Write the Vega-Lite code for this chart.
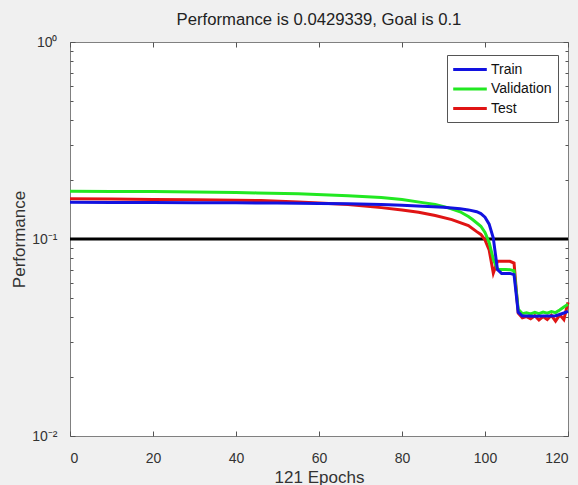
{
  "$schema": "https://vega.github.io/schema/vega-lite/v6.json",
  "width": 498,
  "height": 394,
  "autosize": {"type": "none"},
  "padding": {"left": 70, "top": 42, "right": 10, "bottom": 49},
  "background": "#f0f0f0",
  "title": {
    "text": "Performance is 0.0429339, Goal is 0.1",
    "font": "Liberation Sans",
    "fontSize": 16.7,
    "fontWeight": "normal",
    "color": "#222222",
    "offset": 6
  },
  "config": {
    "view": {"stroke": "#808080", "strokeWidth": 1, "fill": "white"},
    "axis": {
      "domain": false,
      "grid": false,
      "zindex": 2,
      "ticks": true,
      "tickColor": "#555555",
      "tickWidth": 1,
      "labelFont": "Liberation Sans",
      "labelFontSize": 14,
      "labelColor": "#333333",
      "titleFont": "Liberation Sans",
      "titleFontSize": 17,
      "titleFontWeight": "normal",
      "titleColor": "#333333"
    },
    "legend": {
      "labelFont": "Liberation Sans",
      "labelFontSize": 14,
      "labelColor": "#111111"
    }
  },
  "layer": [
    {
      "data": {"values": [{"epoch": 0, "perf": 0.1}, {"epoch": 120, "perf": 0.1}]},
      "mark": {"type": "line", "color": "black", "strokeWidth": 3},
      "encoding": {
        "x": {
          "field": "epoch", "type": "quantitative",
          "scale": {"domain": [0, 120], "nice": false, "zero": false},
          "axis": {"orient": "top", "values": [0, 20, 40, 60, 80, 100, 120], "labels": false, "title": null, "tickSize": -5}
        },
        "y": {
          "field": "perf", "type": "quantitative",
          "scale": {"type": "log", "domain": [0.01, 1], "nice": false},
          "axis": {
            "orient": "right",
            "values": [0.01, 0.02, 0.03, 0.04, 0.05, 0.06, 0.07, 0.08, 0.09, 0.1, 0.2, 0.3, 0.4, 0.5, 0.6, 0.7, 0.8, 0.9, 1],
            "labels": false, "title": null,
            "tickSize": {"condition": {"test": "datum.value == 1 || datum.value == 0.1 || datum.value == 0.01", "value": -5}, "value": -3}
          }
        }
      }
    },
    {
      "data": {"values": [
        {"series": "Test", "epoch": 0, "perf": 0.1599},
        {"series": "Test", "epoch": 10, "perf": 0.1595},
        {"series": "Test", "epoch": 20, "perf": 0.1589},
        {"series": "Test", "epoch": 30, "perf": 0.1582},
        {"series": "Test", "epoch": 40, "perf": 0.1574},
        {"series": "Test", "epoch": 46, "perf": 0.1567},
        {"series": "Test", "epoch": 55, "perf": 0.154},
        {"series": "Test", "epoch": 60, "perf": 0.1522},
        {"series": "Test", "epoch": 67, "perf": 0.1496},
        {"series": "Test", "epoch": 75, "perf": 0.1443},
        {"series": "Test", "epoch": 80, "perf": 0.1405},
        {"series": "Test", "epoch": 84, "perf": 0.1367},
        {"series": "Test", "epoch": 88, "perf": 0.1315},
        {"series": "Test", "epoch": 92, "perf": 0.1255},
        {"series": "Test", "epoch": 96, "perf": 0.117},
        {"series": "Test", "epoch": 98, "perf": 0.109},
        {"series": "Test", "epoch": 99, "perf": 0.1055},
        {"series": "Test", "epoch": 100, "perf": 0.099},
        {"series": "Test", "epoch": 101, "perf": 0.088},
        {"series": "Test", "epoch": 102, "perf": 0.0672},
        {"series": "Test", "epoch": 103, "perf": 0.0772},
        {"series": "Test", "epoch": 104, "perf": 0.0772},
        {"series": "Test", "epoch": 105, "perf": 0.0772},
        {"series": "Test", "epoch": 106, "perf": 0.0771},
        {"series": "Test", "epoch": 107, "perf": 0.0755},
        {"series": "Test", "epoch": 108, "perf": 0.042},
        {"series": "Test", "epoch": 109, "perf": 0.0398},
        {"series": "Test", "epoch": 110, "perf": 0.0404},
        {"series": "Test", "epoch": 111, "perf": 0.0394},
        {"series": "Test", "epoch": 112, "perf": 0.0408},
        {"series": "Test", "epoch": 113, "perf": 0.0388},
        {"series": "Test", "epoch": 114, "perf": 0.0404},
        {"series": "Test", "epoch": 115, "perf": 0.039},
        {"series": "Test", "epoch": 116, "perf": 0.041},
        {"series": "Test", "epoch": 117, "perf": 0.0383},
        {"series": "Test", "epoch": 118, "perf": 0.0412},
        {"series": "Test", "epoch": 119, "perf": 0.039},
        {"series": "Test", "epoch": 120, "perf": 0.0477},
        {"series": "Validation", "epoch": 0, "perf": 0.1746},
        {"series": "Validation", "epoch": 10, "perf": 0.1744},
        {"series": "Validation", "epoch": 20, "perf": 0.174},
        {"series": "Validation", "epoch": 30, "perf": 0.1733},
        {"series": "Validation", "epoch": 40, "perf": 0.1722},
        {"series": "Validation", "epoch": 45, "perf": 0.1714},
        {"series": "Validation", "epoch": 55, "perf": 0.1695},
        {"series": "Validation", "epoch": 67, "perf": 0.166},
        {"series": "Validation", "epoch": 75, "perf": 0.1622},
        {"series": "Validation", "epoch": 80, "perf": 0.1585},
        {"series": "Validation", "epoch": 85, "perf": 0.153},
        {"series": "Validation", "epoch": 88, "perf": 0.1496},
        {"series": "Validation", "epoch": 91, "perf": 0.1443},
        {"series": "Validation", "epoch": 94, "perf": 0.1375},
        {"series": "Validation", "epoch": 96, "perf": 0.13},
        {"series": "Validation", "epoch": 97, "perf": 0.1255},
        {"series": "Validation", "epoch": 99, "perf": 0.1161},
        {"series": "Validation", "epoch": 100, "perf": 0.108},
        {"series": "Validation", "epoch": 101, "perf": 0.096},
        {"series": "Validation", "epoch": 102, "perf": 0.079},
        {"series": "Validation", "epoch": 103, "perf": 0.0701},
        {"series": "Validation", "epoch": 104, "perf": 0.07},
        {"series": "Validation", "epoch": 105, "perf": 0.07},
        {"series": "Validation", "epoch": 106, "perf": 0.0699},
        {"series": "Validation", "epoch": 107, "perf": 0.069},
        {"series": "Validation", "epoch": 108, "perf": 0.044},
        {"series": "Validation", "epoch": 109, "perf": 0.0418},
        {"series": "Validation", "epoch": 110, "perf": 0.0422},
        {"series": "Validation", "epoch": 111, "perf": 0.0417},
        {"series": "Validation", "epoch": 112, "perf": 0.0424},
        {"series": "Validation", "epoch": 113, "perf": 0.0418},
        {"series": "Validation", "epoch": 114, "perf": 0.0426},
        {"series": "Validation", "epoch": 115, "perf": 0.042},
        {"series": "Validation", "epoch": 116, "perf": 0.0428},
        {"series": "Validation", "epoch": 117, "perf": 0.0423},
        {"series": "Validation", "epoch": 118, "perf": 0.0436},
        {"series": "Validation", "epoch": 119, "perf": 0.0452},
        {"series": "Validation", "epoch": 120, "perf": 0.0466},
        {"series": "Train", "epoch": 0, "perf": 0.1536},
        {"series": "Train", "epoch": 10, "perf": 0.1534},
        {"series": "Train", "epoch": 20, "perf": 0.1532},
        {"series": "Train", "epoch": 30, "perf": 0.1529},
        {"series": "Train", "epoch": 40, "perf": 0.1526},
        {"series": "Train", "epoch": 50, "perf": 0.1521},
        {"series": "Train", "epoch": 60, "perf": 0.1515},
        {"series": "Train", "epoch": 67, "perf": 0.151},
        {"series": "Train", "epoch": 75, "perf": 0.1495},
        {"series": "Train", "epoch": 80, "perf": 0.1483},
        {"series": "Train", "epoch": 85, "perf": 0.1468},
        {"series": "Train", "epoch": 90, "perf": 0.145},
        {"series": "Train", "epoch": 94, "perf": 0.1425},
        {"series": "Train", "epoch": 96, "perf": 0.1405},
        {"series": "Train", "epoch": 98, "perf": 0.1375},
        {"series": "Train", "epoch": 99, "perf": 0.1345},
        {"series": "Train", "epoch": 100, "perf": 0.129},
        {"series": "Train", "epoch": 101, "perf": 0.119},
        {"series": "Train", "epoch": 102, "perf": 0.101},
        {"series": "Train", "epoch": 103, "perf": 0.07},
        {"series": "Train", "epoch": 104, "perf": 0.0669},
        {"series": "Train", "epoch": 105, "perf": 0.0669},
        {"series": "Train", "epoch": 106, "perf": 0.0669},
        {"series": "Train", "epoch": 107, "perf": 0.066},
        {"series": "Train", "epoch": 108, "perf": 0.0425},
        {"series": "Train", "epoch": 109, "perf": 0.0406},
        {"series": "Train", "epoch": 110, "perf": 0.0406},
        {"series": "Train", "epoch": 112, "perf": 0.0405},
        {"series": "Train", "epoch": 114, "perf": 0.0406},
        {"series": "Train", "epoch": 116, "perf": 0.0407},
        {"series": "Train", "epoch": 117, "perf": 0.0408},
        {"series": "Train", "epoch": 118, "perf": 0.0414},
        {"series": "Train", "epoch": 119, "perf": 0.0421},
        {"series": "Train", "epoch": 120, "perf": 0.0429}
      ]},
      "mark": {"type": "line", "strokeWidth": 3},
      "encoding": {
        "x": {
          "field": "epoch", "type": "quantitative",
          "axis": {"orient": "bottom", "values": [0, 20, 40, 60, 80, 100, 120], "tickSize": -5, "labelPadding": 20, "title": "121 Epochs", "titlePadding": 4}
        },
        "y": {
          "field": "perf", "type": "quantitative",
          "axis": {
            "orient": "left",
            "values": [0.01, 0.02, 0.03, 0.04, 0.05, 0.06, 0.07, 0.08, 0.09, 0.1, 0.2, 0.3, 0.4, 0.5, 0.6, 0.7, 0.8, 0.9, 1],
            "labelExpr": "datum.value == 1 ? '10⁰' : datum.value == 0.1 ? '10⁻¹' : datum.value == 0.01 ? '10⁻²' : ''",
            "tickSize": {"condition": {"test": "datum.value == 1 || datum.value == 0.1 || datum.value == 0.01", "value": -5}, "value": -3},
            "labelPadding": 18,
            "title": "Performance",
            "titlePadding": 3
          }
        },
        "color": {
          "field": "series", "type": "nominal",
          "scale": {"domain": ["Train", "Validation", "Test"], "range": ["#1212e0", "#22e822", "#e01414"]},
          "legend": {
            "title": null,
            "orient": "none",
            "legendX": 377,
            "legendY": 13,
            "fillColor": "white",
            "strokeColor": "#555555",
            "padding": 6,
            "rowPadding": 3.5,
            "symbolType": "M-2.4,0H2.4",
            "symbolSize": 196,
            "symbolStrokeWidth": 3,
            "symbolOffset": 8.5,
            "labelOffset": 12.5
          }
        }
      }
    }
  ],
  "resolve": {"axis": {"x": "independent", "y": "independent"}}
}
